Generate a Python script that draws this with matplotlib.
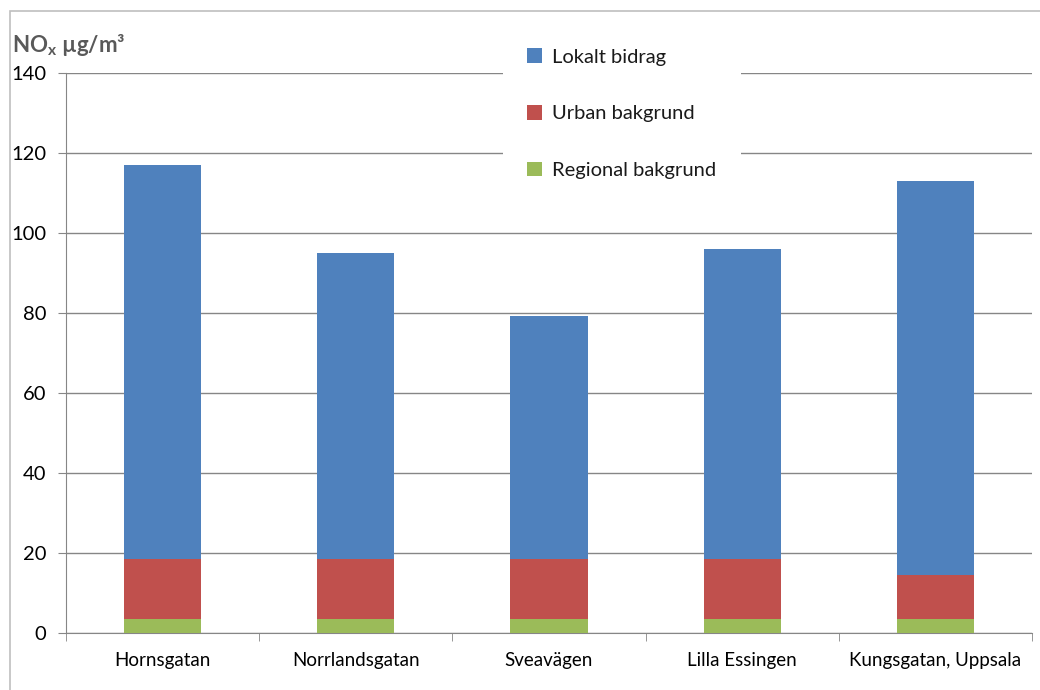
import matplotlib
matplotlib.use('Agg')
import numpy as np
import matplotlib.pyplot as plt
from matplotlib.patches import Rectangle

plt.rcParams['font.family'] = ['Lato', 'DejaVu Sans']
plt.rcParams['mathtext.fontset'] = 'custom'
plt.rcParams['mathtext.rm'] = 'Lato:bold'

### data ###
sites = ['Hornsgatan', 'Norrlandsgatan', 'Sveavägen', 'Lilla Essingen', 'Kungsgatan, Uppsala']
regional = [3.5, 3.5, 3.5, 3.5, 3.5]
urban = [15.1, 15.1, 15.1, 15.1, 11.0]
totals = [117, 95, 79.2, 96, 113]
lokalt = [t - r - u for t, r, u in zip(totals, regional, urban)]

c_lok = '#4f81bd'
c_urb = '#c0504d'
c_reg = '#9bbb59'
grey = '#868686'

fig = plt.figure(figsize=(10.4, 6.9), dpi=100)
ax = fig.add_axes([66/1040, 1 - 633/690, (1032-66)/1040, (633-73)/690])

# outer chart border
fig.patches.append(Rectangle((10/1040, -0.1), 1.2, 1 - 11/690 + 0.1, transform=fig.transFigure,
                             fill=False, edgecolor='#bfbfbf', linewidth=1.2))

x = np.arange(len(sites))
w = 0.4
bot_u = np.array(regional)
bot_l = bot_u + np.array(urban)
b_reg = ax.bar(x, regional, w, color=c_reg, label='Regional bakgrund', zorder=3)
b_urb = ax.bar(x, urban, w, bottom=bot_u, color=c_urb, label='Urban bakgrund', zorder=3)
b_lok = ax.bar(x, lokalt, w, bottom=bot_l, color=c_lok, label='Lokalt bidrag', zorder=3)

ax.set_xlim(-0.5, len(sites) - 0.5)
ax.set_ylim(0, 140)
ax.set_yticks(np.arange(0, 141, 20))
ax.yaxis.grid(True, color=grey, linewidth=1.0, zorder=0)
ax.set_axisbelow(True)

ax.set_xticks(x)
ax.set_xticklabels(sites, fontsize=13.5)
ax.set_xticks(np.arange(-0.5, len(sites)), minor=True)
ax.tick_params(axis='x', which='major', length=0, pad=14)
ax.tick_params(axis='x', which='minor', length=6, color=grey, direction='out')
ax.tick_params(axis='y', length=6, color=grey, labelsize=14.5, pad=8)

for s in ['top', 'right']:
    ax.spines[s].set_visible(False)
for s in ['left', 'bottom']:
    ax.spines[s].set_color(grey)

# legend with white box over gridlines
leg = ax.legend(handles=[b_lok, b_urb, b_reg], loc='upper left',
                bbox_to_anchor=((493-66)/966, 1 + 59/560), frameon=True,
                fontsize=14.5, handlelength=0.75, handleheight=0.75,
                handletextpad=0.5, labelspacing=1.95, borderpad=1.2,
                fancybox=False, framealpha=1, edgecolor='white')
leg.get_frame().set_linewidth(0)
leg.set_zorder(5)
for t in leg.get_texts():
    t.set_color('#1a1a1a')

fig.text(12/1040, 1 - 45/690, r'NO$_{\mathrm{x}}$ µg/m³', fontsize=16, fontweight='bold',
         color='#595959', va='center', ha='left')

plt.savefig('out.png', dpi=100)
